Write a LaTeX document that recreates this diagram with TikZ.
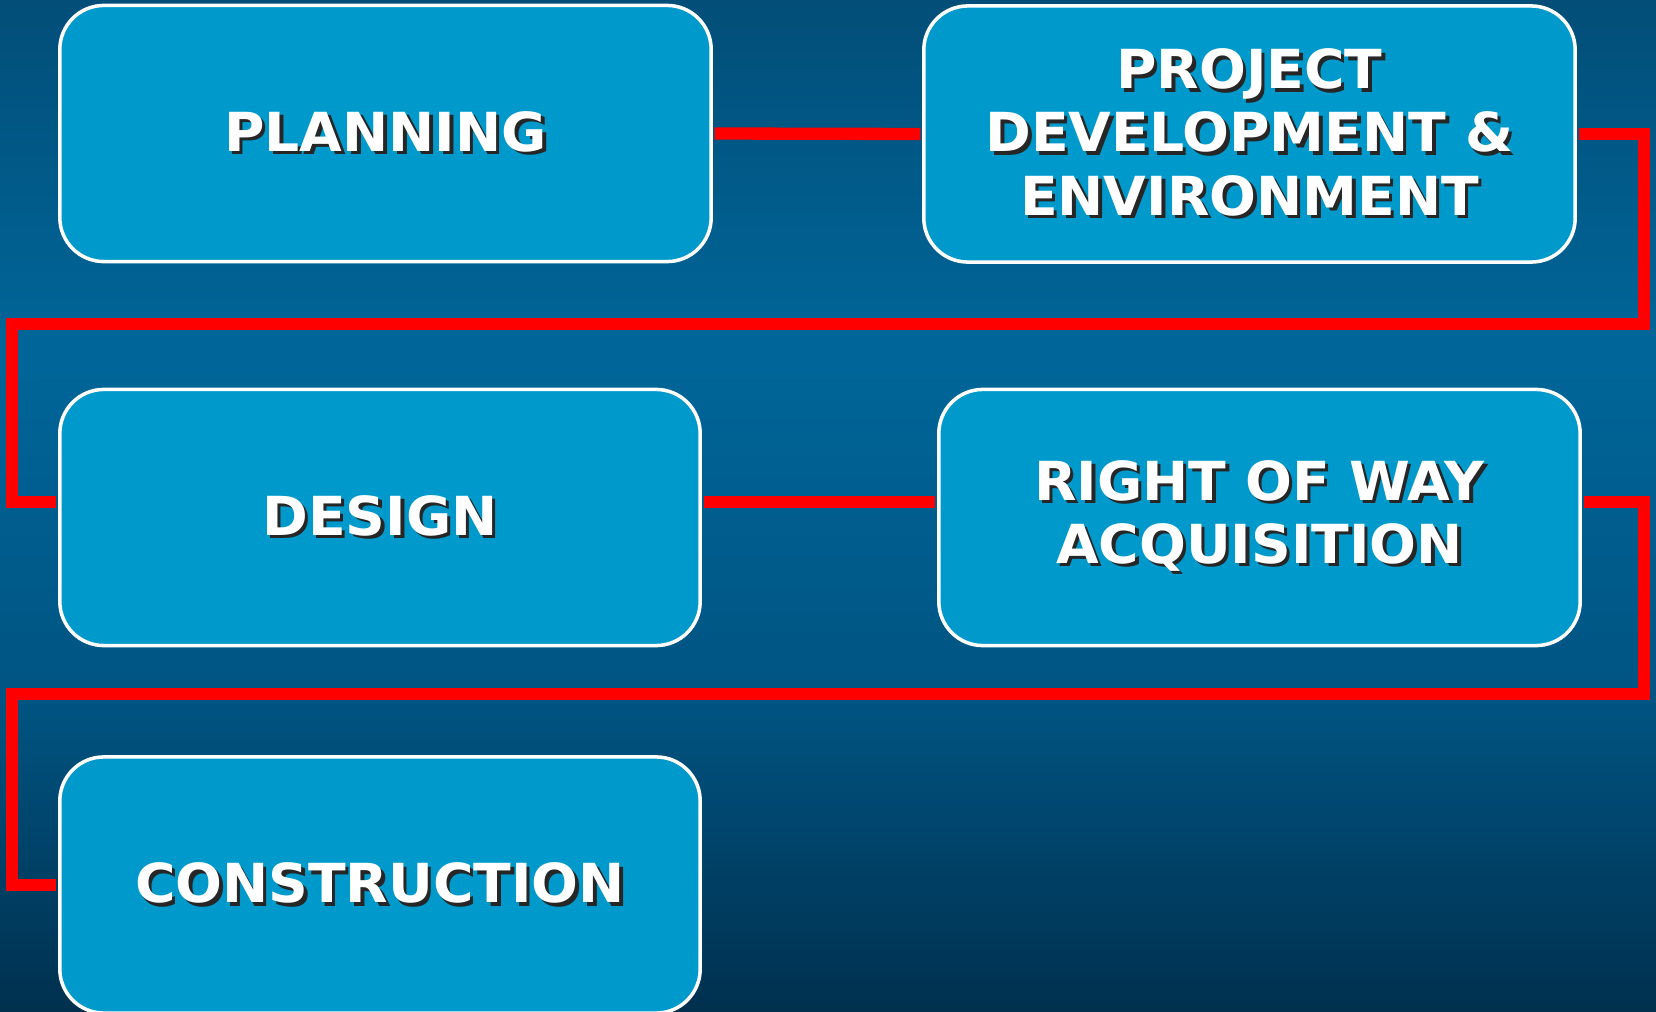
\documentclass[tikz,border=0pt]{standalone}
\usepackage{fontspec}
\setmainfont{DejaVu Sans}[FakeStretch=1.025]
\definecolor{bgtop}{HTML}{024E78}
\definecolor{bgmid}{HTML}{006699}
\definecolor{bglow}{HTML}{005482}
\definecolor{bgbot}{HTML}{00304E}
\definecolor{boxblue}{HTML}{0099CC}
\newcommand\shtxt[1]{\leavevmode\rlap{\hspace{1pt}\raisebox{-1pt}{\color{black!85}#1}}#1}

\begin{document}
\begin{tikzpicture}[x=0.01cm, y=-0.01cm,
    stage/.style={draw=white, line width=1pt, fill=boxblue, rounded corners=0.44cm,
        text=white, font=\fontsize{15.3}{18}\selectfont\bfseries, align=center,
        inner sep=0pt, minimum height=2.56cm},
    link/.style={red, line width=3.5pt, shorten <=0.5pt, shorten >=0.5pt}]
    \useasboundingbox (0,0) rectangle (1656,1012);
    % background
    \shade[top color=bgtop, bottom color=bgmid] (0,0) rectangle (1656,350);
    \shade[top color=bgmid, bottom color=bglow] (0,350) rectangle (1656,700);
    \shade[top color=bglow, bottom color=bgbot] (0,700) rectangle (1656,1012);

    \node[stage, minimum width=6.51cm] (planning) at (385.5,133.5) {\shtxt{PLANNING}};
    \node[stage, minimum width=6.51cm] (project) at (1249.5,134)
        {\shtxt{PROJECT}\\\shtxt{DEVELOPMENT \&}\\\shtxt{ENVIRONMENT}};
    \node[stage, minimum width=6.40cm] (design) at (380,517.5) {\shtxt{DESIGN}};
    \node[stage, minimum width=6.41cm] (row) at (1259.5,517.5)
        {\shtxt{RIGHT OF WAY}\\\shtxt{ACQUISITION}};
    \node[stage, minimum width=6.40cm] (construction) at (380,885) {\shtxt{CONSTRUCTION}};

    % red route
    \coordinate (r1) at (1644,134);
    \coordinate (r2) at (1644,324);
    \coordinate (r3) at (12,324);
    \coordinate (r4) at (12,502);
    \coordinate (r5) at (1644,502);
    \coordinate (r6) at (1644,694);
    \coordinate (r7) at (12,694);
    \coordinate (r8) at (12,885);
    \draw[link] (planning.east) -- (project.west);
    \draw[link] (project.east |- r1) -- (r1) -- (r2) -- (r3) -- (r4) -- (design.west |- r4);
    \draw[link] (design.east |- r4) -- (row.west |- r4);
    \draw[link] (row.east |- r5) -- (r5) -- (r6) -- (r7) -- (r8) -- (construction.west);
\end{tikzpicture}
\end{document}
